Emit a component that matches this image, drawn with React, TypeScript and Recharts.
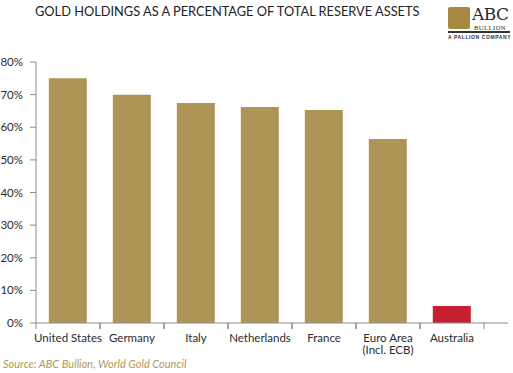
import React from 'react';
import { BarChart, Bar, XAxis, YAxis, Cell } from 'recharts';

const categories = ['United States', 'Germany', 'Italy', 'Netherlands', 'France', 'Euro Area\n(Incl. ECB)', 'Australia'];
const goldShare = [75, 70, 67.4, 66.2, 65.3, 56.4, 5.2];
const highlight = ['Australia'];
const yTicks = [0, 10, 20, 30, 40, 50, 60, 70, 80];

const GOLD = '#af9458';
const RED = '#c8202e';
const AXIS = '#8a8a8a';
const LABEL = '#2b2b2b';
const FONT = 'Lato, "Open Sans", sans-serif';

const data = categories.map((name, i) => ({ name, value: goldShare[i] }));

function CategoryTick(props: any) {
  const { x, y, payload } = props;
  const half = payload && payload.offset ? payload.offset : 32;
  const lines = String(payload.value).split('\n');
  return (
    <g>
      <line x1={x - half} x2={x - half} y1={y} y2={y + 6} stroke={AXIS} strokeWidth={1} />
      <line x1={x + half} x2={x + half} y1={y} y2={y + 6} stroke={AXIS} strokeWidth={1} />
      <text x={x} y={y + 19} textAnchor="middle" fill={LABEL} fontSize={11.5} fontFamily={FONT}>
        {lines.map((l, i) => (
          <tspan key={i} x={x} dy={i === 0 ? 0 : 12}>
            {l}
          </tspan>
        ))}
      </text>
    </g>
  );
}

function Logo() {
  return (
    <svg width={66} height={42} style={{ position: 'absolute', left: 446, top: 0 }}>
      <rect x={2} y={7} width={22} height={22} rx={2} fill="#a8873e" />
      <text x={26} y={19.5} fontFamily='"DejaVu Serif", serif' fontSize={17} letterSpacing={-0.6} fill="#2a2a2a">
        ABC
      </text>
      <text x={28} y={30} fontFamily='"Liberation Serif", serif' fontSize={6.5} letterSpacing={0.5} fill="#2a2a2a">
        BULLION
      </text>
      <rect x={2} y={31} width={62} height={2} fill="#333" />
      <text x={2} y={39} fontFamily='"Liberation Sans", sans-serif' fontSize={5} fontWeight={700} fill="#333" letterSpacing={0.6}>
        A PALLION COMPANY
      </text>
    </svg>
  );
}

export default function App() {
  return (
    <div style={{ position: 'absolute', left: 0, top: 0, width: 513, height: 373, background: '#fff', overflow: 'hidden' }}>
      <div
        style={{
          position: 'absolute',
          left: 35,
          top: 3,
          fontFamily: FONT,
          fontSize: 12.8,
          color: '#222',
          whiteSpace: 'nowrap',
        }}
      >
        GOLD HOLDINGS AS A PERCENTAGE OF TOTAL RESERVE ASSETS
      </div>

      <Logo />

      <div style={{ position: 'absolute', left: 0, top: 0 }}>
        <BarChart width={513} height={373} data={data} margin={{ top: 62, right: 5, bottom: 20, left: 0 }} barCategoryGap="20%">
          <YAxis
            type="number"
            domain={[0, 80]}
            ticks={yTicks}
            width={36}
            tickFormatter={(v) => `${v}%`}
            axisLine={{ stroke: AXIS }}
            tickLine={{ stroke: AXIS }}
            tickSize={6}
            tickMargin={7}
            tick={{ fill: LABEL, fontSize: 11.5, fontFamily: FONT }}
          />
          <XAxis
            dataKey="name"
            height={30}
            padding={{ left: 0, right: 24 }}
            axisLine={{ stroke: AXIS }}
            tickLine={false}
            tickSize={0}
            tickMargin={0}
            interval={0}
            tick={<CategoryTick />}
          />
          <Bar dataKey="value" isAnimationActive={false}>
            {data.map((d) => (
              <Cell key={d.name} fill={highlight.includes(d.name) ? RED : GOLD} />
            ))}
          </Bar>
        </BarChart>
      </div>

      <div
        style={{
          position: 'absolute',
          left: 3,
          top: 357,
          fontFamily: FONT,
          fontStyle: 'italic',
          fontSize: 11,
          color: '#b4975a',
          whiteSpace: 'nowrap',
        }}
      >
        Source: ABC Bullion, World Gold Council
      </div>
    </div>
  );
}
